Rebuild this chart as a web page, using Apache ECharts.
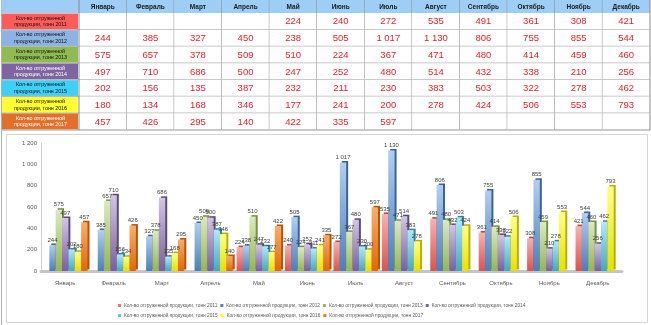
<!DOCTYPE html>
<html><head><meta charset="utf-8">
<script src="https://cdn.jsdelivr.net/npm/echarts@6/dist/echarts.min.js"></script>
<style>html,body{margin:0;padding:0;background:#fff}#c{width:651px;height:325px}</style>
</head><body><div id="c"></div><script>
const months = ['Январь','Февраль','Март','Апрель','Май','Июнь','Июль','Август','Сентябрь','Октябрь','Ноябрь','Декабрь'];
const years = ['2011','2012','2013','2014','2015','2016','2017'];
const s2011 = [null,null,null,null,224,240,272,535,491,361,308,421];
const s2012 = [244,385,327,450,238,505,1017,1130,806,755,855,544];
const s2013 = [575,657,378,509,510,224,367,471,480,414,459,460];
const s2014 = [497,710,686,500,247,252,480,514,432,338,210,256];
const s2015 = [202,156,135,387,232,211,230,383,503,322,278,462];
const s2016 = [180,134,168,346,177,241,200,278,424,506,553,793];
const s2017 = [457,426,295,140,422,335,597,null,null,null,null,null];
const yTicks = [0,200,400,600,800,1000,1200];

const rows = [s2011,s2012,s2013,s2014,s2015,s2016,s2017];
const names = years.map(y => 'Кол-во отгруженной продукции, тонн ' + y);
const headFill = ['#ff5b5b','#8db3e2','#8fbc52','#8064a2','#3fd0f8','#ffff33','#e2702a'];
const headText = ['#111','#111','#111','#fff','#111','#111','#fff'];
const barTop = ['#f7b2ae','#b3cdf2','#dce9c2','#d2c6e2','#b2e8f8','#ffff8a','#f9ae6c'];
const barBot = ['#d9534f','#4a7ebb','#94b650','#7b5e9e','#42a8c4','#e8e000','#e06808'];
const barSide = ['#b54540','#3a6496','#76923f','#5f497a','#31859c','#b8b000','#b45408'];
const legendCol = ['#ff6b6b','#4f81bd','#9bbb59','#8064a2','#5bc8ee','#ffff00','#f07a1a'];

function fmt(v){ if (v==null) return ''; const s = String(v); return s.length > 3 ? s.slice(0,s.length-3) + ' ' + s.slice(-3) : s; }

const cellData = [];
rows.forEach((arr, r) => arr.forEach((v, c) => cellData.push([c, r])));
const FONT = 'Liberation Sans, Arial, sans-serif';

const chart = echarts.init(document.getElementById('c'), null, {renderer:'canvas'});
const barSeries = rows.map((arr, i) => ({
  name: names[i], type: 'bar', xAxisIndex: 0, yAxisIndex: 0,
  data: arr, barGap: '0%', barCategoryGap: '8%',
  itemStyle: {
    color: {type:'linear', x:0, y:0, x2:0, y2:1, colorStops:[{offset:0,color:barTop[i]},{offset:1,color:barBot[i]}]},
    shadowColor: barSide[i], shadowOffsetX: 2, shadowOffsetY: -1.5, shadowBlur: 0
  },
  label: {show:true, position:'top', distance:2, fontSize:6, color:'#404040', fontFamily:FONT, formatter: p => fmt(p.value)}
}));

chart.setOption({
  animation: false,
  graphic: [
    {type:'rect', shape:{x:6.5, y:134.5, width:641, height:188}, style:{fill:'none', stroke:'#d4d4d4', lineWidth:1}},
    {type:'line', shape:{x1:1.5, y1:0, x2:1.5, y2:325}, style:{stroke:'#b0b0b0', lineWidth:1}}
  ],
  grid: [
    {left:41, right:29, top:143, bottom:54},
    {left:79, top:13, width:571, height:117}
  ],
  legend: [
    {data: names.slice(0,4).map((n,i)=>({name:n, itemStyle:{color:legendCol[i]}})), left:118, top:303, itemWidth:3, itemHeight:3, itemGap:3, icon:'rect',
     textStyle:{fontSize:4.8, color:'#595959', fontFamily:FONT, padding:[0,0,0,-2]}, padding:0},
    {data: names.slice(4).map((n,i)=>({name:n, itemStyle:{color:legendCol[i+4]}})), left:118, top:313, itemWidth:3, itemHeight:3, itemGap:3, icon:'rect',
     textStyle:{fontSize:4.8, color:'#595959', fontFamily:FONT, padding:[0,0,0,-2]}, padding:0}
  ],
  xAxis: [
    {type:'category', gridIndex:0, data:months, axisTick:{show:false},
     axisLine:{show:true, lineStyle:{color:'#c6c6c6', width:3}},
     axisLabel:{fontSize:6, color:'#595959', fontFamily:FONT, margin:9}},
    {type:'category', gridIndex:1, data:months, show:false}
  ],
  yAxis: [
    {type:'value', gridIndex:0, min:0, max:1200, interval:200, axisTick:{show:false},
     axisLine:{show:true, lineStyle:{color:'#d0d0d0'}}, splitLine:{show:false},
     axisLabel:{fontSize:6, color:'#595959', fontFamily:FONT, margin:4, formatter: v => fmt(v)}},
    {type:'category', gridIndex:1, data:years, inverse:true, show:false}
  ],
  series: barSeries.concat([
    {type:'custom', xAxisIndex:1, yAxisIndex:1, data:cellData, silent:true,
     renderItem:(params, api) => {
       const c = api.value(0), r = api.value(1);
       const p = api.coord([c, r]); const s = api.size([1,1]);
       const x0 = p[0]-s[0]/2, y0 = p[1]-s[1]/2;
       return {type:'group', children:[
         {type:'rect', shape:{x:x0, y:y0, width:s[0], height:s[1]}, style:{fill:'#fff'}},
         {type:'line', shape:{x1:x0, y1:y0+s[1], x2:x0+s[0], y2:y0+s[1]}, style:{stroke:'#b8b8b8', lineWidth:1.5}},
         {type:'line', shape:{x1:x0+s[0], y1:y0, x2:x0+s[0], y2:y0+s[1]}, style:{stroke:'#8a8a8a', lineWidth:1}},
         {type:'text', style:{text: fmt(rows[r][c]), x:p[0], y:p[1]+0.5, align:'center', verticalAlign:'middle', fill:'#e8202a', font:'9.5px ' + FONT}}
       ]};
     }},
    {type:'custom', xAxisIndex:1, yAxisIndex:1, data:months.map((m,i)=>[i,0]), silent:true,
     renderItem:(params, api) => {
       const c = api.value(0);
       const p = api.coord([c, 0]); const s = api.size([1,1]);
       const x0 = p[0]-s[0]/2, y0 = p[1]-s[1]/2 - 13;
       const ch = [
         {type:'rect', shape:{x:x0, y:y0, width:s[0], height:13}, style:{fill:'#9ecdf6'}},
         {type:'line', shape:{x1:x0+s[0], y1:y0, x2:x0+s[0], y2:y0+13}, style:{stroke:'#8a8a8a', lineWidth:1}},
         {type:'text', style:{text: months[c], x:p[0], y:y0+7, align:'center', verticalAlign:'middle', fill:'#1a1a1a', font:'bold 6.5px ' + FONT}}
       ];
       if (c === 0) {
         ch.unshift({type:'rect', shape:{x:1.5, y:y0, width:x0-1.5, height:13}, style:{fill:'#9ecdf6'}});
         ch.push({type:'line', shape:{x1:x0, y1:y0, x2:x0, y2:y0+13}, style:{stroke:'#8a8a8a', lineWidth:1}});
       }
       return {type:'group', children:ch};
     }},
    {type:'custom', xAxisIndex:1, yAxisIndex:1, data:years.map((y,i)=>[0,i]), silent:true,
     renderItem:(params, api) => {
       const r = api.value(1);
       const p = api.coord([0, r]); const s = api.size([1,1]);
       const xr = p[0]-s[0]/2, y0 = p[1]-s[1]/2;
       return {type:'group', children:[
         {type:'rect', shape:{x:2, y:y0+0.5, width:xr-3, height:s[1]-1}, style:{fill:headFill[r]}},
         {type:'line', shape:{x1:2, y1:y0+s[1], x2:xr, y2:y0+s[1]}, style:{stroke:'#b8b8b8', lineWidth:1.5}},
         {type:'line', shape:{x1:xr, y1:y0, x2:xr, y2:y0+s[1]}, style:{stroke:'#8a8a8a', lineWidth:1}},
         {type:'text', style:{text:'Кол-во отгруженной\nпродукции, тонн ' + years[r], x:(2+xr)/2, y:p[1], align:'center', verticalAlign:'middle', fill:headText[r], font:'5.3px ' + FONT, lineHeight:6.5}}
       ]};
     }}
  ])
});
</script></body></html>
